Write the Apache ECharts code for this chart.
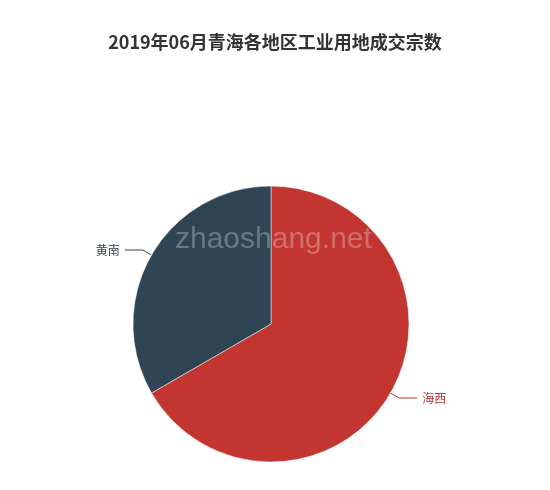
<!DOCTYPE html>
<html><head><meta charset="utf-8">
<script src="https://cdn.jsdelivr.net/npm/echarts@6/dist/echarts.min.js"></script>
<style>html,body{margin:0;padding:0;background:#fff}#c{width:550px;height:490px}</style>
</head><body><div id="c"></div>
<script>
var categories = ['海西', '黄南'];
var values = [2, 1];
var titleText = '2019年06月青海各地区工业用地成交宗数';
var chart = echarts.init(document.getElementById('c'));
chart.setOption({
  animation: false,
  color: ['#c23531', '#2f4554'],
  title: {
    text: titleText, left: 'center', top: 28,
    textStyle: {fontSize: 18, fontWeight: 'bold', color: '#333', fontFamily: 'Noto Sans CJK SC'}
  },
  graphic: [{
    type: 'text', left: 175, top: 225, z: 100,
    style: {text: 'zhaoshang.net', fontSize: 30, fontFamily: 'Liberation Sans', fill: 'rgba(255,255,255,0.28)'}
  }],
  series: [{
    type: 'pie',
    center: [271, 324],
    radius: 138,
    startAngle: 90,
    clockwise: true,
    data: categories.map(function (c, i) { return {name: c, value: values[i]}; }),
    itemStyle: {borderColor: '#fff', borderWidth: 0.5},
    label: {fontSize: 12, fontFamily: 'Noto Sans CJK SC', color: 'inherit'},
    labelLine: {length: 10, length2: 18}
  }]
});
</script></body></html>
